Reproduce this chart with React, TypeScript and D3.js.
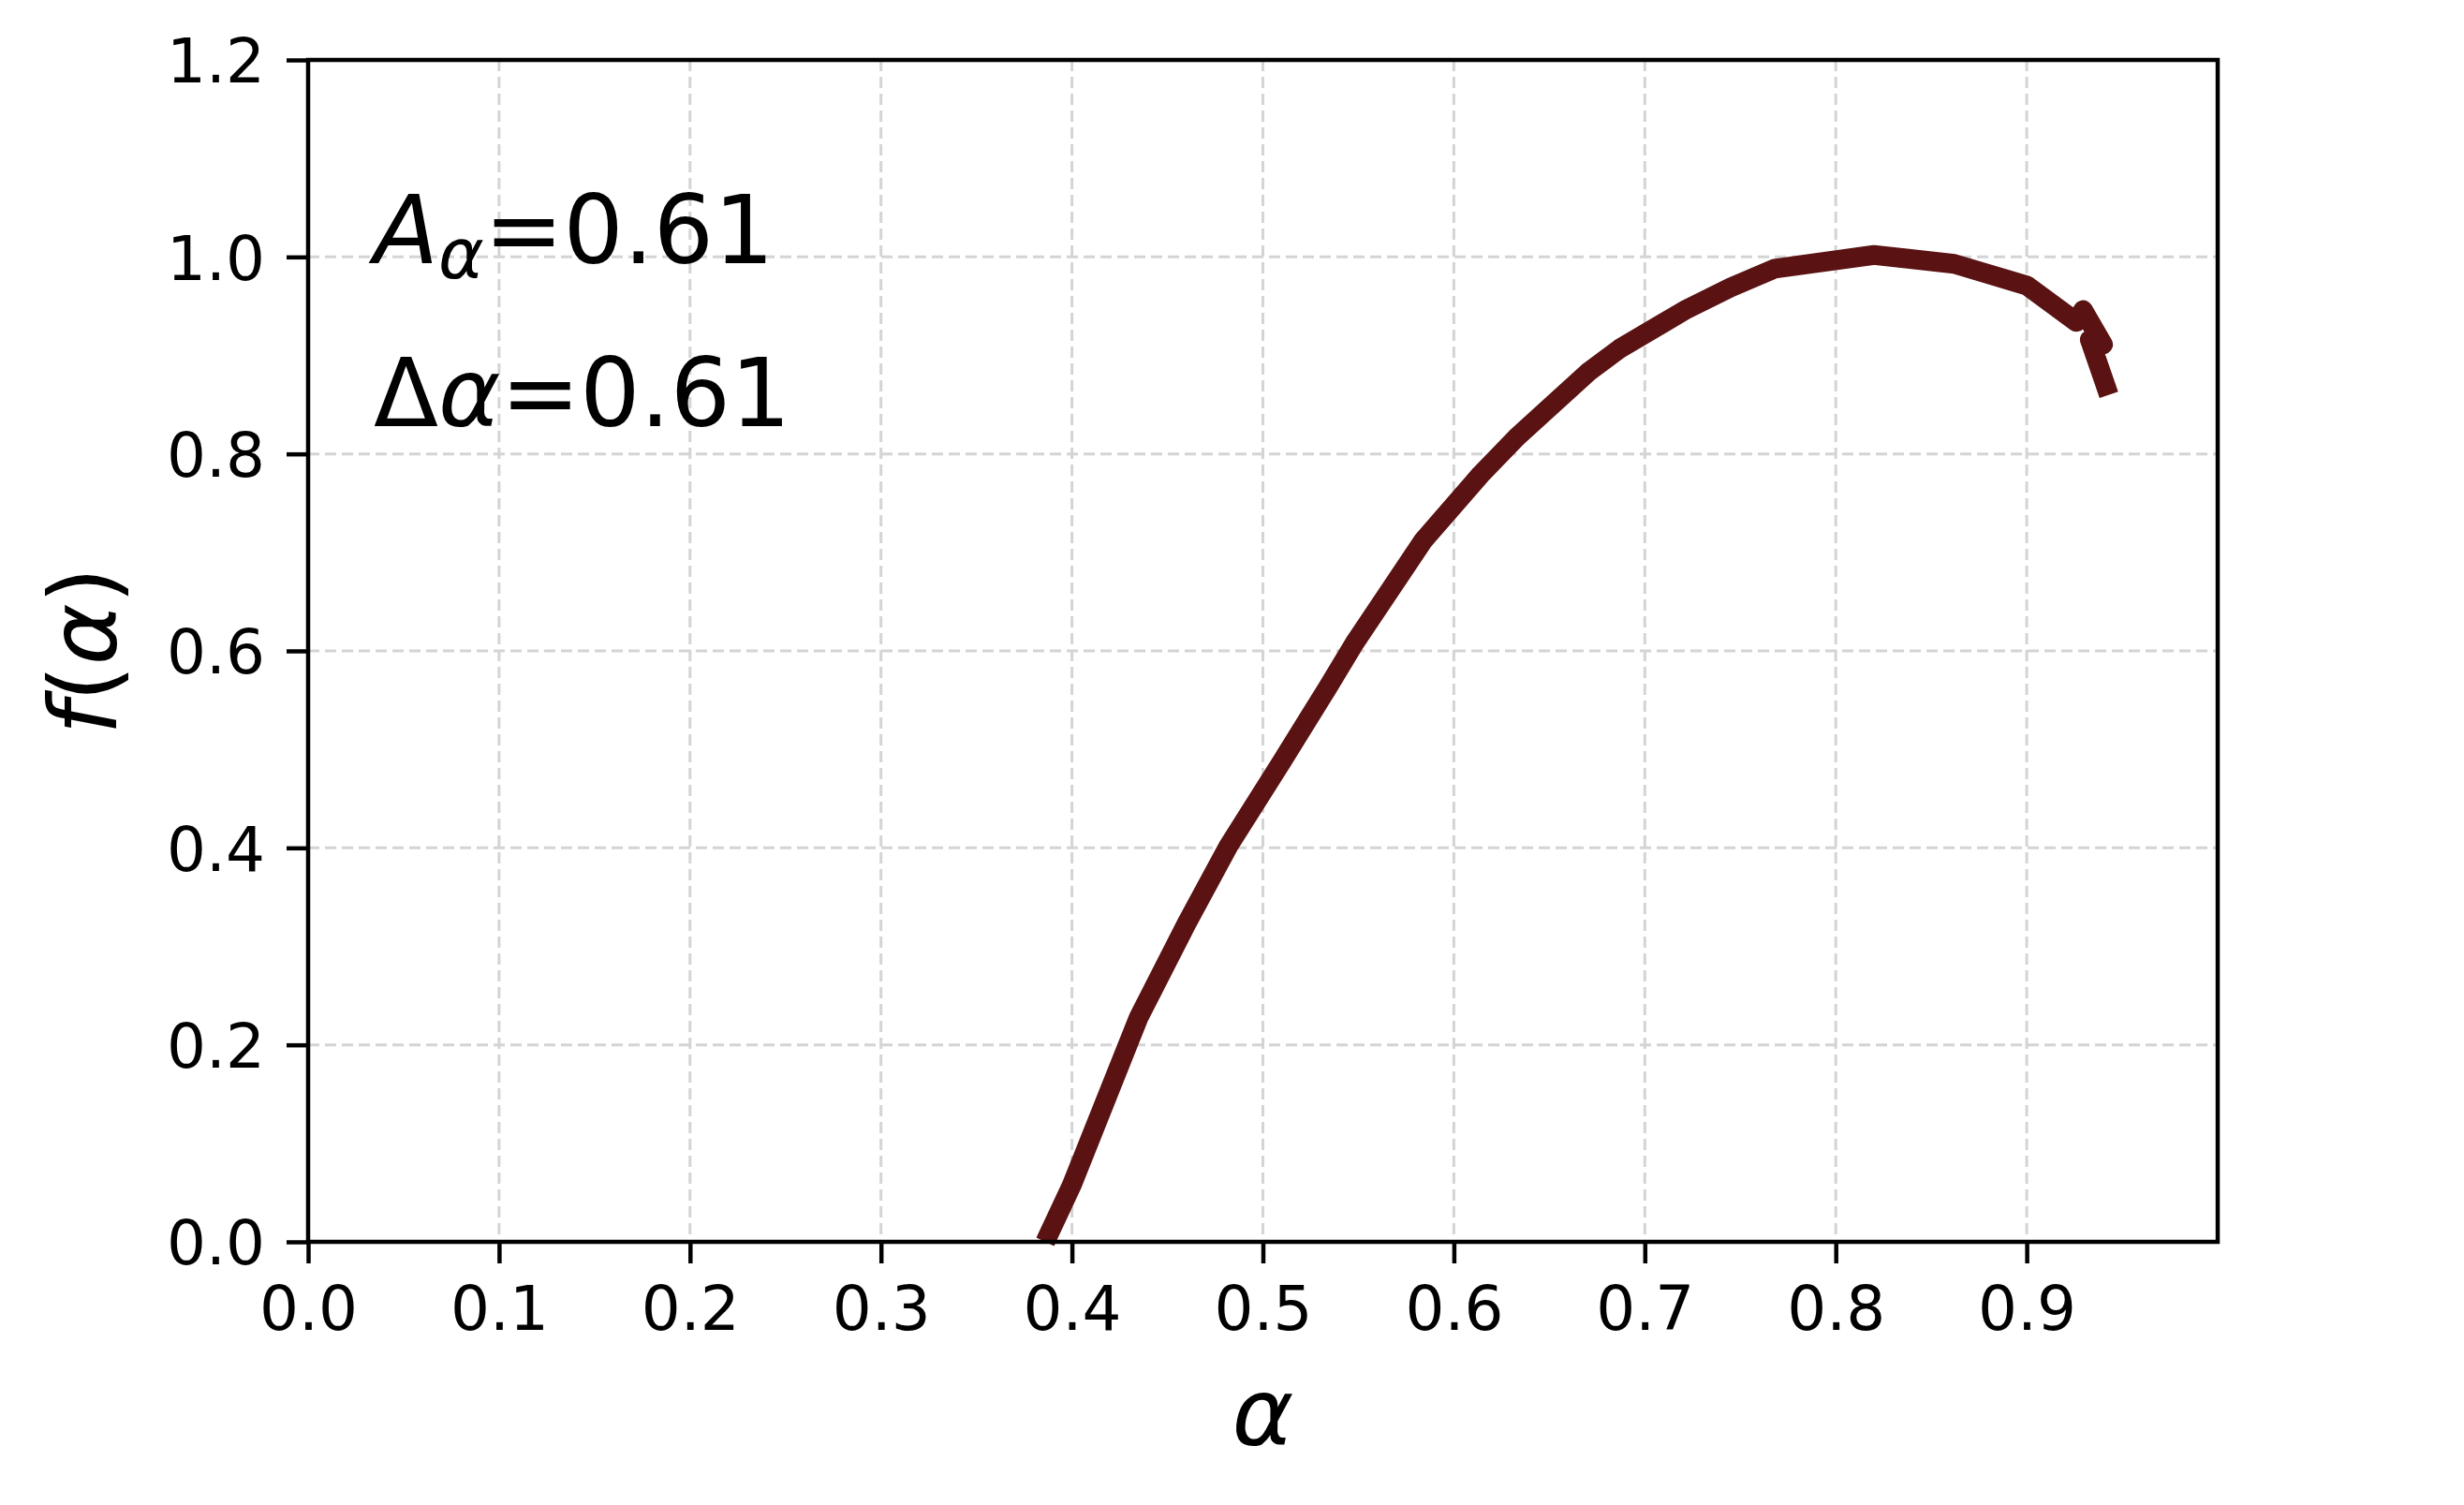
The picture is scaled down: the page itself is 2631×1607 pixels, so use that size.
import * as d3 from 'd3';
import { useRef, useEffect } from 'react';

// CHART DATA
const ALPHA = [
  0.386, 0.4, 0.435, 0.46, 0.482, 0.51, 0.534, 0.548, 0.584, 0.614, 0.633,
  0.671, 0.687, 0.722, 0.745, 0.768, 0.82, 0.862, 0.9, 0.926, 0.9295, 0.94,
  0.933, 0.943,
];
const F_ALPHA = [
  0.0, 0.058, 0.228, 0.323, 0.402, 0.488, 0.563, 0.608, 0.712, 0.779, 0.817,
  0.884, 0.907, 0.947, 0.969, 0.988, 1.002, 0.993, 0.971, 0.934, 0.946, 0.911,
  0.916, 0.86,
];
const X_TICKS = [0, 0.1, 0.2, 0.3, 0.4, 0.5, 0.6, 0.7, 0.8, 0.9];
const Y_TICKS = [0, 0.2, 0.4, 0.6, 0.8, 1.0, 1.2];
const A_VALUE = '0.61';
const DELTA_VALUE = '0.61';

// RENDERING SETUP
const W = 2631;
const H = 1607;
const MARGIN = { TOP: 64, LEFT: 329, RIGHT: 263, BOTTOM: 281 };
const FONT = '"DejaVu Sans", Verdana, sans-serif';
const LINE_COLOR = '#5a1212';
const TICK_SIZE = 66;
const LABEL_SIZE = 100;
const NOTE_SIZE = 101;
const TICK_LEN = 23;
const TICK_PAD = 23;

const App = () => {
  const svgRef = useRef(null);

  useEffect(() => {
    const svg = d3.select(svgRef.current);
    svg.selectAll('*').remove();

    const innerW = W - MARGIN.LEFT - MARGIN.RIGHT;
    const innerH = H - MARGIN.TOP - MARGIN.BOTTOM;

    const x = d3.scaleLinear().domain([0, 1]).range([0, innerW]);
    const y = d3.scaleLinear().domain([0, 1.2]).range([innerH, 0]);

    const g = svg
      .append('g')
      .attr('transform', `translate(${MARGIN.LEFT}, ${MARGIN.TOP})`);

    // grid
    g.append('g')
      .selectAll('line')
      .data(X_TICKS)
      .join('line')
      .attr('x1', (d) => x(d))
      .attr('x2', (d) => x(d))
      .attr('y1', 0)
      .attr('y2', innerH)
      .attr('stroke', '#d4d4d4')
      .attr('stroke-width', 3)
      .attr('stroke-dasharray', '12,6');
    g.append('g')
      .selectAll('line')
      .data(Y_TICKS)
      .join('line')
      .attr('x1', 0)
      .attr('x2', innerW)
      .attr('y1', (d) => y(d))
      .attr('y2', (d) => y(d))
      .attr('stroke', '#d4d4d4')
      .attr('stroke-width', 3)
      .attr('stroke-dasharray', '12,6');

    // curve
    const pts = ALPHA.map((a, i) => [a, F_ALPHA[i]]);
    const line = d3
      .line()
      .x((d) => x(d[0]))
      .y((d) => y(d[1]));
    g.append('path')
      .datum(pts)
      .attr('d', line)
      .attr('fill', 'none')
      .attr('stroke', LINE_COLOR)
      .attr('stroke-width', 21)
      .attr('stroke-linejoin', 'round')
      .attr('stroke-linecap', 'butt');

    // axes
    const xAxis = g
      .append('g')
      .attr('transform', `translate(0, ${innerH})`)
      .call(
        d3
          .axisBottom(x)
          .tickValues(X_TICKS)
          .tickSize(TICK_LEN)
          .tickPadding(TICK_PAD)
          .tickFormat(d3.format('.1f'))
      );
    const yAxis = g.append('g').call(
      d3
        .axisLeft(y)
        .tickValues(Y_TICKS)
        .tickSize(TICK_LEN)
        .tickPadding(TICK_PAD)
        .tickFormat(d3.format('.1f'))
    );
    [xAxis, yAxis].forEach((ax) => {
      ax.select('.domain').remove();
      ax.selectAll('line').attr('stroke', '#000').attr('stroke-width', 4.5);
      ax.selectAll('text')
        .attr('fill', '#000')
        .style('font-family', FONT)
        .style('font-size', `${TICK_SIZE}px`);
    });
    xAxis.selectAll('text').attr('dy', '0.72em');
    yAxis.selectAll('text').attr('dy', '0.36em');

    // frame
    g.append('rect')
      .attr('x', 0)
      .attr('y', 0)
      .attr('width', innerW)
      .attr('height', innerH)
      .attr('fill', 'none')
      .attr('stroke', '#000')
      .attr('stroke-width', 4.5);

    // axis labels
    svg
      .append('text')
      .attr('x', MARGIN.LEFT + innerW / 2)
      .attr('y', 1543)
      .attr('text-anchor', 'middle')
      .style('font-family', FONT)
      .style('font-size', `${LABEL_SIZE}px`)
      .style('font-style', 'italic')
      .text('α');

    const yl = svg
      .append('text')
      .attr('transform', `translate(124, ${MARGIN.TOP + innerH / 2}) rotate(-90)`)
      .attr('text-anchor', 'middle')
      .style('font-family', FONT)
      .style('font-size', `${LABEL_SIZE}px`);
    yl.append('tspan').style('font-style', 'italic').text('f');
    yl.append('tspan').text('(');
    yl.append('tspan').style('font-style', 'italic').text('α');
    yl.append('tspan').text(')');

    // annotations
    const t1 = svg
      .append('text')
      .attr('x', 399)
      .attr('y', 281)
      .style('font-family', FONT)
      .style('font-size', `${NOTE_SIZE}px`);
    t1.append('tspan').style('font-style', 'italic').text('A');
    t1.append('tspan')
      .style('font-style', 'italic')
      .style('font-size', '74px')
      .attr('dy', 16)
      .text('α');
    t1.append('tspan').attr('dy', -16).text(`=${A_VALUE}`);

    const t2 = svg
      .append('text')
      .attr('x', 399)
      .attr('y', 455)
      .style('font-family', FONT)
      .style('font-size', `${NOTE_SIZE}px`);
    t2.append('tspan').text('Δ');
    t2.append('tspan').style('font-style', 'italic').text('α');
    t2.append('tspan').text(`=${DELTA_VALUE}`);
  }, []);

  return (
    <svg
      ref={svgRef}
      width={W}
      height={H}
      style={{ position: 'fixed', left: 0, top: 0, background: '#fff' }}
    />
  );
};

export default App;
